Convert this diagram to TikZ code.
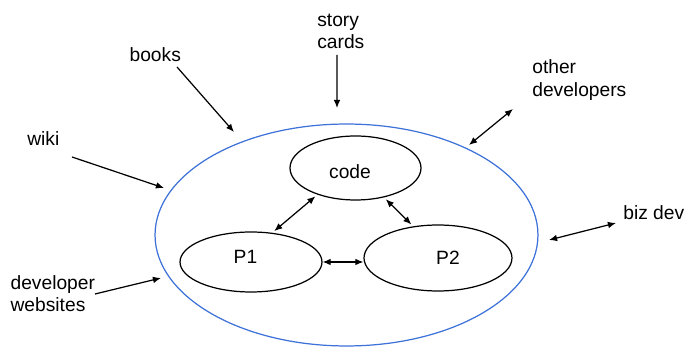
\documentclass[tikz,border=0pt]{standalone}
\usepackage{fontspec}
\setmainfont{Liberation Sans}
\usepackage{tikz}
\usetikzlibrary{
  % enables ellipse nodes
  shapes.geometric,%
  arrows.meta,%
  calc,%
  positioning
}
\definecolor{teamblue}{RGB}{61,114,216}
\tikzset{>={Latex[length=4.6pt,width=3.8pt]}}
\tikzset{font=\fontsize{10.94}{13.04}\selectfont}
\tikzset{every path/.style={line width=0.7pt}}
\tikzset{blob/.style={ellipse, draw, inner sep=0pt},
  source/.style={anchor=base west, inner sep=0pt, align=left}}

\begin{document}
\begin{tikzpicture}[x=0.02cm, y=-0.02cm]
          \useasboundingbox (0,0) rectangle (684,347);
          % the team and what sits inside it
          \node[blob, draw=teamblue, minimum width=7.66cm, minimum height=4.44cm] (team) at (346.5,235) {};
          \node[blob, minimum width=2.62cm, minimum height=1.28cm, text height=0.42cm, text depth=0cm] (code) at (355.5,168) {code\hspace*{0.22cm}};
          \node[blob, minimum width=2.84cm, minimum height=1.20cm, text height=0.28cm, text depth=0.2cm] (p1) at (251,262) {P1\hspace*{0.22cm}};
          \node[blob, minimum width=2.96cm, minimum height=1.32cm] (p2) at (438,258) {\hspace*{0.4cm}P2};
          \draw[<->, shorten <=1.5pt, shorten >=1.5pt] (code.215.6) -- (p1.54.6);
          \draw[<->, shorten <=1.5pt, shorten >=1.5pt] (code.314.5) -- (p2.128.7);
          \draw[<->] (p1.east) -- (p2.west |- p1.east);
          % sources round the team
          \node[source] (story) at (316.7,49) {story\\cards};
          \node[source] (books) at (129,61.7) {books};
          \node[source] (wiki) at (26.7,145.7) {wiki};
          \node[source] (others) at (531.7,96.5) {other\\developers};
          \node[source] (biz) at (622.7,220) {biz dev};
          \node[source] (sites) at (10,312) {developer\\websites};
          \coordinate (story-in) at (337,108);
          \coordinate (books-in) at (234,132);
          \coordinate (wiki-in) at (164,188);
          \coordinate (others-in) at (469,145);
          \coordinate (biz-in) at (549,240);
          \coordinate (sites-in) at (161,278);
          \draw[->] ($(story.base west)+(20.3,6)$) -- (story-in);
          \draw[->] ($(books.base west)+(48,5.3)$) -- (books-in);
          \draw[->] ($(wiki.base west)+(45.3,11.3)$) -- (wiki-in);
          \draw[<->] ($(others.base west)+(-18.7,12.5)$) -- (others-in);
          \draw[<->] ($(biz.base west)+(-6.7,3)$) -- (biz-in);
          \draw[->] ($(sites.base west)+(85,-18)$) -- (sites-in);
        \end{tikzpicture}
\end{document}
